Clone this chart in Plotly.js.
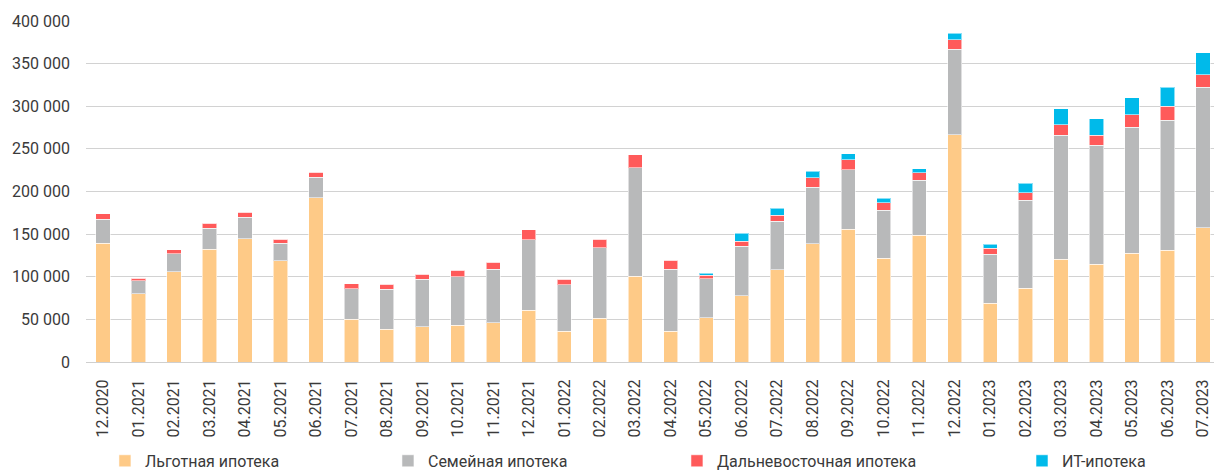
<!DOCTYPE html>
<html>
<head>
<meta charset="utf-8">
<script src="https://cdn.plot.ly/plotly-3.0.1.min.js"></script>
<style>
  html, body { margin: 0; padding: 0; background: #ffffff; }
  #chart { width: 1214px; height: 471px; }
</style>
</head>
<body>
<div id="chart"></div>
<script>
const months = ["12.2020","01.2021","02.2021","03.2021","04.2021","05.2021","06.2021","07.2021","08.2021","09.2021","10.2021","11.2021","12.2021","01.2022","02.2022","03.2022","04.2022","05.2022","06.2022","07.2022","08.2022","09.2022","10.2022","11.2022","12.2022","01.2023","02.2023","03.2023","04.2023","05.2023","06.2023","07.2023"];

const lgotnaya = [139500,80000,105900,132400,144500,118750,192600,50000,38300,41400,43400,46100,60900,36300,51200,100800,36300,52000,77700,108200,138700,155900,121900,148800,266400,69100,86700,120300,114800,127700,131250,157400];
const semeynaya = [28100,15300,21100,24600,25400,20750,24200,35900,47200,55900,56600,62900,82500,54300,82800,126900,72700,45700,58200,57000,66000,69900,56200,64500,100400,57500,102800,145700,139500,147700,152350,164900];
const dalnevost = [6200,2700,4600,5500,5900,4250,5900,5900,5500,5400,7800,8200,11700,6300,9750,15700,10500,4300,5500,6700,11300,11700,9000,8600,11300,6600,8900,12100,11700,14400,16400,14400];
const itIpoteka = [0,0,0,0,0,0,0,0,0,0,0,0,0,0,0,0,0,2300,9800,8200,7800,7000,4700,4700,7400,5100,11400,18800,19200,20400,22300,26200];

const yTicks = [0,50000,100000,150000,200000,250000,300000,350000,400000];
const yTickText = ["0","50 000","100 000","150 000","200 000","250 000","300 000","350 000","400 000"];

const seriesNames = ["Льготная ипотека","Семейная ипотека","Дальневосточная ипотека","ИТ-ипотека"];
const seriesColors = ["#FECA87","#B8B9BA","#FF5A5A","#00BAEA"];
const seriesData = [lgotnaya, semeynaya, dalnevost, itIpoteka];
const legendIds = ["legend","legend2","legend3","legend4"];

const traces = seriesData.map((vals, i) => ({
  type: "bar",
  name: seriesNames[i],
  x: months,
  y: vals,
  marker: { color: seriesColors[i], line: { color: "rgba(255,255,255,0.55)", width: 1 } },
  legend: legendIds[i],
  hoverinfo: "none"
}));

const font = { family: "Roboto, 'Open Sans', sans-serif", size: 16, color: "#3a3a3a" };
const legendBase = {
  orientation: "h", yanchor: "middle", y: -0.29, xanchor: "left",
  font: font, bgcolor: "rgba(0,0,0,0)", borderwidth: 0,
  traceorder: "normal"
};
const legendX = [0.0168, 0.2677, 0.5239, 0.8298];

const layout = {
  width: 1214, height: 471,
  margin: { l: 86, r: 0, t: 21, b: 109, pad: 0, autoexpand: false },
  paper_bgcolor: "#ffffff", plot_bgcolor: "#ffffff",
  font: font,
  barmode: "stack",
  bargap: 0.6,
  showlegend: true,
  xaxis: {
    type: "category",
    range: [-0.48, 31.31],
    tickangle: -90,
    showgrid: false,
    showline: true,
    linecolor: "#CFCFCF",
    linewidth: 1,
    ticks: "",
    ticklabelstandoff: 10,
    tickfont: font,
    automargin: false,
    fixedrange: true
  },
  yaxis: {
    range: [0, 400000],
    tickvals: yTicks,
    ticktext: yTickText,
    showgrid: true,
    gridcolor: "#D2D2D2",
    gridwidth: 1,
    zeroline: false,
    showline: false,
    ticks: "",
    ticklabelstandoff: 15,
    tickfont: font,
    automargin: false,
    fixedrange: true
  },
  legend:  Object.assign({}, legendBase, { x: legendX[0] }),
  legend2: Object.assign({}, legendBase, { x: legendX[1] }),
  legend3: Object.assign({}, legendBase, { x: legendX[2] }),
  legend4: Object.assign({}, legendBase, { x: legendX[3] })
};

Plotly.newPlot("chart", traces, layout, { displayModeBar: false, staticPlot: true });
</script>
</body>
</html>
